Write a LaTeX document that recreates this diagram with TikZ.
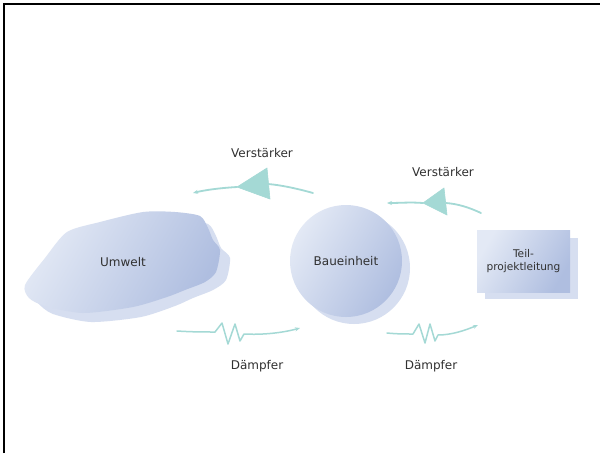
\documentclass[tikz,border=0pt]{standalone}
\usepackage{fontspec}
\setmainfont{DejaVu Sans}
\usetikzlibrary{arrows.meta}
\definecolor{shapeA}{HTML}{E3E9F5}
\definecolor{shapeB}{HTML}{AFBEE0}
\definecolor{shadowc}{HTML}{D6DEF0}
\definecolor{teal}{HTML}{A4D9D5}
\definecolor{txt}{HTML}{303030}
\tikzset{
  lbl/.style={font=\fontsize{12}{14}\selectfont, text=txt, inner sep=0pt},
  smalllbl/.style={font=\fontsize{10.6}{13}\selectfont, text=txt, inner sep=0pt, align=center},
  gradfill/.style={shading=axis, left color=shapeA, right color=shapeB, shading angle=60},
  shadowfill/.style={fill=shadowc, draw=none},
  link/.style={draw=teal, line width=1.8pt, line cap=round, line join=round},
  tip/.style={fill=teal, draw=teal, line join=round, line width=0.6pt},
}
\begin{document}
\begin{tikzpicture}[x=1pt,y=-1pt]
\useasboundingbox (0,0) rectangle (600,453);
\fill[white] (0,0) rectangle (600,453);
% frame
\draw[line width=2.2pt] (4,453) -- (4,4) -- (600,4);

% Umwelt blob shadow
\fill[shadowc] plot[smooth cycle, tension=0.45] coordinates {
 (34,292) (52,268) (74,241) (108,230) (151,220) (183,220) (208,224)
 (216,236) (221,248) (230,258) (226,280) (213,290) (193,298) (175,306) (141,317) (91,322) (53,314) (38,303)};
% Umwelt blob
\shade[gradfill] plot[smooth cycle, tension=0.45] coordinates {
 (25,285) (45,258) (67,232) (100,222) (143,212) (175,212) (200,216)
 (208,228) (213,240) (220,250) (216,272) (205,282) (185,290) (167,297) (133,307) (83,313) (45,306) (29,298)};
\node[lbl] (umw) at (123,262) {Umwelt};

% Baueinheit
\fill[shadowc] (354,268) circle (56);
\node[circle, minimum size=112pt, inner sep=0pt, gradfill] (bau) at (346,261) {};
\node[lbl] at (bau.center) {Baueinheit};

% Teilprojektleitung
\fill[shadowc] (485,238) rectangle (578,299);
\node[rectangle, minimum width=93pt, minimum height=62pt, inner sep=0pt, gradfill] (tpl) at (523.5,261) {};
\node[smalllbl] at (tpl.center) {Teil-\\projektleitung};

% Verstaerker left
\coordinate (v1s) at (313,193);
\coordinate (v1b) at (268,184);
\coordinate (v1t) at (237,187);
\coordinate (v1e) at (193,193);
\draw[link] (v1s) .. controls (295,188) and (280,185) .. (v1b);
\draw[link, -{Stealth[length=5pt,width=4pt]}] (v1t) .. controls (220,188) and (205,190) .. (v1e);
\fill[tip] (267,168) -- (v1t) -- (270,199) -- cycle;
\node[lbl] (vl1) at (262,153) {Verstärker};

% Verstaerker right
\coordinate (v2s) at (481,213);
\coordinate (v2b) at (446,203);
\coordinate (v2t) at (423,203);
\coordinate (v2e) at (387,203);
\draw[link] (v2s) .. controls (468,207) and (458,204) .. (v2b);
\draw[link, -{Stealth[length=5pt,width=4pt]}] (v2t) .. controls (410,202) and (400,203) .. (v2e);
\fill[tip] (444,188) -- (v2t) -- (447,215) -- cycle;
\node[lbl] (vl2) at (443,172) {Verstärker};

% Daempfer left
\coordinate (d1s) at (177,331);
\coordinate (d1e) at (300,328);
\draw[link, line width=1.5pt, -{Stealth[length=5pt,width=4pt]}]
  (d1s) .. controls (192,332) and (205,332) .. (215,332)
  -- (222,323) -- (228,344) -- (235,324) -- (240,341) -- (244,334)
  .. controls (262,335) and (282,333) .. (d1e);
\node[lbl] (dl1) at (257,366) {Dämpfer};

% Daempfer right
\coordinate (d2s) at (387,333);
\coordinate (d2e) at (478,325);
\draw[link, line width=1.5pt, -{Stealth[length=5pt,width=4pt]}]
  (d2s) .. controls (397,334) and (405,334) .. (413,334)
  -- (419,324) -- (425,343) -- (430,324) -- (435,341) -- (438,335)
  .. controls (452,335) and (466,330) .. (d2e);
\node[lbl] (dl2) at (431,366) {Dämpfer};
\end{tikzpicture}
\end{document}
